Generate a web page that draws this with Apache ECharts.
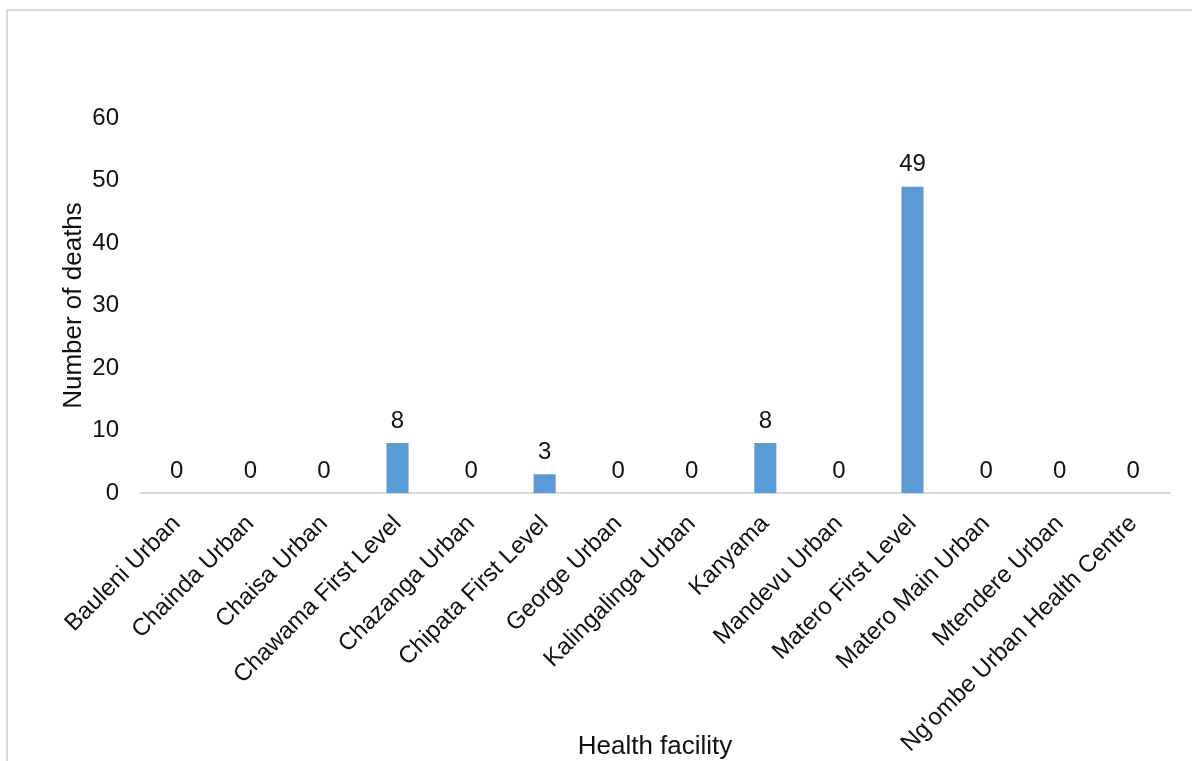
<!DOCTYPE html>
<html>
<head>
<meta charset="utf-8">
<title>Number of deaths by health facility</title>
<script src="https://cdn.jsdelivr.net/npm/echarts@6/dist/echarts.min.js"></script>
<style>
  html, body { margin: 0; padding: 0; background: #fff; }
  #chart { width: 1192px; height: 761px; }
</style>
</head>
<body>
<div id="chart"></div>
<script>
// Health facilities along the x axis
const facilities = [
  'Bauleni Urban', 'Chainda Urban', 'Chaisa Urban', 'Chawama First Level',
  'Chazanga Urban', 'Chipata First Level', 'George Urban', 'Kalingalinga Urban',
  'Kanyama', 'Mandevu Urban', 'Matero First Level', 'Matero Main Urban',
  'Mtendere Urban', "Ng'ombe Urban Health Centre"
];

// Deaths recorded at each facility
const deaths = [0, 0, 0, 8, 0, 3, 0, 0, 8, 0, 49, 0, 0, 0];

// Value axis range
const yMin = 0;
const yMax = 60;
const yStep = 10;

const FONT = '"Liberation Sans", Arial, Helvetica, sans-serif';
const TEXT = '#111';

const chart = echarts.init(document.getElementById('chart'), null, { renderer: 'canvas' });

chart.setOption({
  backgroundColor: '#fff',
  animation: false,
  textStyle: { fontFamily: FONT },
  graphic: [{
    type: 'rect',
    shape: { x: 7, y: 10, width: 1220, height: 800 },
    style: { fill: 'none', stroke: '#d9d9d9', lineWidth: 2 },
    silent: true
  }],
  grid: {
    left: 140, right: 22, top: 118, bottom: 268,
    containLabel: false,
    outerBoundsMode: 'none'
  },
  xAxis: {
    type: 'category',
    data: facilities,
    name: 'Health facility',
    nameLocation: 'middle',
    nameGap: 254,
    nameMoveOverlap: false,
    nameTextStyle: { fontSize: 26, color: TEXT, fontFamily: FONT, verticalAlign: 'middle' },
    axisLine: { show: true, lineStyle: { color: '#d9d9d9', width: 2 } },
    axisTick: { show: false },
    axisLabel: {
      rotate: 45,
      interval: 0,
      margin: 27,
      fontSize: 24,
      color: TEXT,
      fontFamily: FONT
    },
    splitLine: { show: false }
  },
  yAxis: {
    type: 'value',
    min: yMin,
    max: yMax,
    interval: yStep,
    name: 'Number of deaths',
    nameLocation: 'middle',
    nameGap: 66,
    nameRotate: 90,
    nameMoveOverlap: false,
    nameTextStyle: { fontSize: 26, color: TEXT, fontFamily: FONT, verticalAlign: 'middle' },
    axisLine: { show: false },
    axisTick: { show: false },
    axisLabel: { margin: 21, fontSize: 24, color: TEXT, fontFamily: FONT },
    splitLine: { show: false }
  },
  series: [{
    type: 'bar',
    data: deaths,
    barWidth: '30%',
    itemStyle: { color: '#5b9bd5' },
    label: {
      show: true,
      position: 'top',
      distance: 10,
      fontSize: 24,
      color: TEXT,
      fontFamily: FONT
    }
  }]
});
</script>
</body>
</html>
